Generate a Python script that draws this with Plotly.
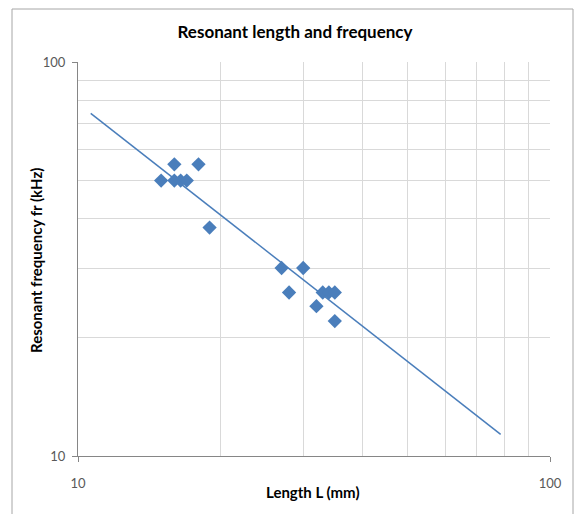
import plotly.graph_objects as go

# Data
length_mm = [15, 16, 16, 16.5, 17, 18, 19, 27, 28, 30, 32, 33, 34, 35, 35]
freq_khz = [50, 55, 50, 50, 50, 55, 38, 30, 26, 30, 24, 26, 26, 26, 22]

# Power trendline endpoints (as drawn in the reference)
trend_x = [10.64, 78.6]
trend_y = [74.1, 11.35]

minor_vals = [20, 30, 40, 50, 60, 70, 80, 90]
major_vals = [10, 100]

blue = "#4A7EBB"
grid = "#D9D9D9"
axis_col = "#868686"
family = "Lato, Liberation Sans, sans-serif"
tick_font = dict(family=family, size=13, color="#595959")
bold_font = dict(family=family, size=15, color="#000000")

fig = go.Figure()
fig.add_trace(go.Scatter(x=trend_x, y=trend_y, mode="lines",
                         line=dict(color=blue, width=1.5), showlegend=False, hoverinfo="skip"))
fig.add_trace(go.Scatter(x=length_mm, y=freq_khz, mode="markers",
                         marker=dict(symbol="diamond", size=11, color=blue), showlegend=False))

axis_common = dict(
    type="log", range=[1, 2], tickvals=major_vals, ticktext=["10", "100"],
    showgrid=True, gridcolor=grid, gridwidth=1,
    minor=dict(tickvals=minor_vals, showgrid=True, gridcolor=grid, ticks=""),
    showline=True, linecolor=axis_col, linewidth=1,
    ticks="outside", ticklen=5, tickcolor=axis_col,
    tickfont=tick_font, zeroline=False, fixedrange=True, automargin=False,
)

fig.update_layout(
    width=574, height=514,
    margin=dict(l=78, r=24, t=62, b=58),
    paper_bgcolor="white", plot_bgcolor="white",
    title=dict(text="<b>Resonant length and frequency</b>", x=295 / 574, xanchor="center",
               xref="container", y=1 - 32 / 514, yanchor="middle",
               font=dict(family=family, size=17, color="#000000")),
    xaxis=dict(axis_common, ticklabelstandoff=10),
    yaxis=dict(axis_common, ticklabelstandoff=4),
)

# Axis titles
fig.add_annotation(text="<b>Length L (mm)</b>", xref="paper", yref="paper",
                   x=(313 - 78) / 472, y=(456 - 492) / 394, xanchor="center", yanchor="middle",
                   showarrow=False, font=bold_font)
fig.add_annotation(text="<b>Resonant frequency fr (kHz)</b>", xref="paper", yref="paper",
                   x=(36 - 78) / 472, y=(456 - 260) / 394, xanchor="center", yanchor="middle",
                   textangle=-90, showarrow=False, font=bold_font)

# Outer chart frame
fig.add_shape(type="rect", xref="paper", yref="paper",
              x0=(12 - 78) / 472, x1=(573 - 78) / 472,
              y0=(456 - 530) / 394, y1=(456 - 9) / 394,
              line=dict(color="#A6A6A6", width=1), fillcolor="rgba(0,0,0,0)", layer="below")

fig.write_html("out.html")
